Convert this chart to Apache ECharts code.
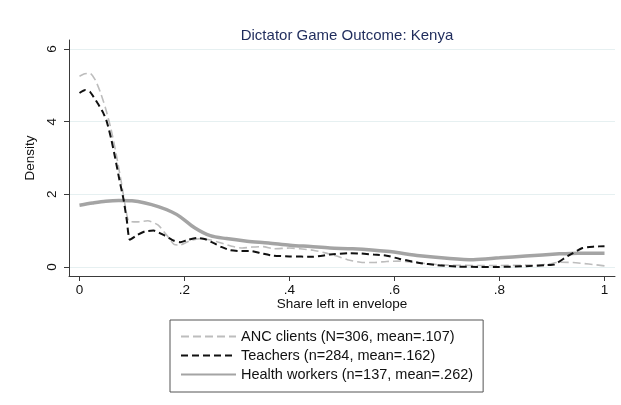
<!DOCTYPE html>
<html>
<head>
<meta charset="utf-8">
<script src="https://cdn.jsdelivr.net/npm/echarts@6/dist/echarts.min.js"></script>
<style>
  html, body { margin: 0; padding: 0; background: #fff; }
  #chart { width: 621px; height: 405px; }
</style>
</head>
<body>
<div id="chart"></div>
<script>
// Kernel density estimates of the share left in the envelope, by group
var ancX = [0, 0.01, 0.02, 0.03, 0.04, 0.05, 0.06, 0.07, 0.08, 0.088, 0.094, 0.11, 0.13, 0.15, 0.17, 0.18, 0.19, 0.21, 0.23, 0.25, 0.27, 0.29, 0.31, 0.33, 0.35, 0.37, 0.40, 0.42, 0.445, 0.47, 0.49, 0.51, 0.535, 0.56, 0.585, 0.61, 0.64, 0.67, 0.70, 0.75, 0.80, 0.85, 0.89, 0.915, 0.94, 0.97, 1.0];
var ancY = [5.25, 5.32, 5.33, 5.15, 4.8, 4.35, 3.8, 3.1, 2.3, 1.6, 1.26, 1.24, 1.27, 1.15, 0.8, 0.62, 0.6, 0.72, 0.78, 0.74, 0.66, 0.57, 0.52, 0.55, 0.56, 0.5, 0.52, 0.5, 0.46, 0.38, 0.3, 0.2, 0.13, 0.12, 0.15, 0.16, 0.12, 0.08, 0.05, 0.04, 0.04, 0.05, 0.07, 0.13, 0.12, 0.08, 0.03];

var teacherX = [0, 0.011, 0.02, 0.034, 0.045, 0.052, 0.06, 0.068, 0.076, 0.084, 0.09, 0.096, 0.11, 0.125, 0.141, 0.16, 0.18, 0.192, 0.205, 0.224, 0.24, 0.255, 0.27, 0.287, 0.305, 0.325, 0.345, 0.369, 0.40, 0.445, 0.477, 0.515, 0.534, 0.56, 0.585, 0.61, 0.648, 0.68, 0.72, 0.76, 0.8, 0.85, 0.89, 0.905, 0.93, 0.958, 0.98, 1.0];
var teacherY = [4.79, 4.87, 4.82, 4.52, 4.25, 4.0, 3.55, 3.0, 2.4, 1.85, 1.3, 0.75, 0.88, 0.98, 1.0, 0.88, 0.72, 0.68, 0.74, 0.8, 0.76, 0.66, 0.55, 0.46, 0.44, 0.44, 0.38, 0.31, 0.29, 0.28, 0.34, 0.38, 0.37, 0.34, 0.31, 0.22, 0.11, 0.05, 0.01, 0.0, 0.0, 0.02, 0.05, 0.07, 0.3, 0.52, 0.56, 0.57];

var healthX = [0, 0.025, 0.05, 0.075, 0.1, 0.125, 0.15, 0.175, 0.192, 0.22, 0.249, 0.28, 0.319, 0.36, 0.401, 0.44, 0.477, 0.52, 0.585, 0.648, 0.70, 0.75, 0.80, 0.85, 0.914, 0.95, 1.0];
var healthY = [1.70, 1.76, 1.81, 1.83, 1.82, 1.76, 1.66, 1.52, 1.38, 1.07, 0.86, 0.78, 0.71, 0.66, 0.6, 0.56, 0.52, 0.5, 0.43, 0.31, 0.24, 0.2, 0.25, 0.3, 0.36, 0.38, 0.38];

var seriesNames = ['ANC clients (N=306, mean=.107)', 'Teachers (n=284, mean=.162)', 'Health workers (n=137, mean=.262)'];
var xTicks = [0, 0.2, 0.4, 0.6, 0.8, 1];
var yTicks = [0, 2, 4, 6];

function pairs(xs, ys) {
  return xs.map(function (x, i) { return [x, ys[i]]; });
}

var FONT = '"Liberation Sans", Arial, sans-serif';
var AXIS_COLOR = '#3a3a3a';

var chart = echarts.init(document.getElementById('chart'), null, { renderer: 'canvas' });

chart.setOption({
  animation: false,
  backgroundColor: '#ffffff',
  textStyle: { fontFamily: FONT },
  title: {
    text: 'Dictator Game Outcome: Kenya',
    left: 342,
    textAlign: 'center',
    top: 23,
    textStyle: { fontFamily: FONT, fontSize: 15, fontWeight: 'normal', color: '#1f2c5c' }
  },
  grid: { left: 69, right: 6, top: 40, bottom: 129 },
  xAxis: {
    type: 'value',
    min: -0.02,
    max: 1.02,
    name: 'Share left in envelope',
    nameLocation: 'middle',
    nameGap: 21,
    nameMoveOverlap: false,
    nameTextStyle: { fontFamily: FONT, fontSize: 13.5, color: '#111', verticalAlign: 'top' },
    axisLine: { show: true, onZero: false, lineStyle: { color: AXIS_COLOR, width: 1 } },
    axisTick: { show: true, length: 5, customValues: xTicks, lineStyle: { color: AXIS_COLOR } },
    axisLabel: {
      customValues: xTicks,
      margin: 7,
      fontFamily: FONT, fontSize: 13.5, color: '#111',
      formatter: function (v) {
        if (v === 0) return '0';
        if (v === 1) return '1';
        return String(Math.round(v * 10) / 10).replace(/^0/, '');
      }
    },
    splitLine: { show: false }
  },
  yAxis: {
    type: 'value',
    min: -0.25,
    max: 6.25,
    name: 'Density',
    nameLocation: 'middle',
    nameRotate: 90,
    nameGap: 27,
    nameTextStyle: { fontFamily: FONT, fontSize: 13.5, color: '#111' },
    axisLine: { show: true, onZero: false, lineStyle: { color: AXIS_COLOR, width: 1 } },
    axisTick: { show: true, length: 5, customValues: yTicks, lineStyle: { color: AXIS_COLOR } },
    axisLabel: {
      customValues: yTicks,
      rotate: 90,
      margin: 10,
      fontFamily: FONT, fontSize: 13.5, color: '#111'
    },
    splitLine: { show: true, lineStyle: { color: '#e6f0f1', width: 1 } }
  },
  legend: {
    orient: 'vertical',
    left: 170,
    top: 320,
    itemWidth: 55,
    itemHeight: 10,
    itemGap: 4,
    padding: [9, 10, 10, 10],
    borderColor: '#555',
    borderWidth: 1,
    itemStyle: { opacity: 0 },
    textStyle: { fontFamily: FONT, fontSize: 14.5, color: '#111' },
    data: seriesNames
  },
  series: [
    {
      name: seriesNames[0],
      type: 'line',
      data: pairs(ancX, ancY),
      showSymbol: false,
      symbol: 'none',
      smooth: 0.2,
      lineStyle: { color: '#bdbdbd', width: 1.6, type: [8, 4] },
      itemStyle: { color: '#bdbdbd' },
      z: 2
    },
    {
      name: seriesNames[1],
      type: 'line',
      data: pairs(teacherX, teacherY),
      showSymbol: false,
      symbol: 'none',
      smooth: 0.2,
      lineStyle: { color: '#111111', width: 2, type: [7, 4] },
      itemStyle: { color: '#111111' },
      z: 4
    },
    {
      name: seriesNames[2],
      type: 'line',
      data: pairs(healthX, healthY),
      showSymbol: false,
      symbol: 'none',
      smooth: 0.3,
      lineStyle: { color: '#a4a4a4', width: 3.5, type: 'solid' },
      itemStyle: { color: '#a4a4a4' },
      z: 3
    }
  ]
});
</script>
</body>
</html>
